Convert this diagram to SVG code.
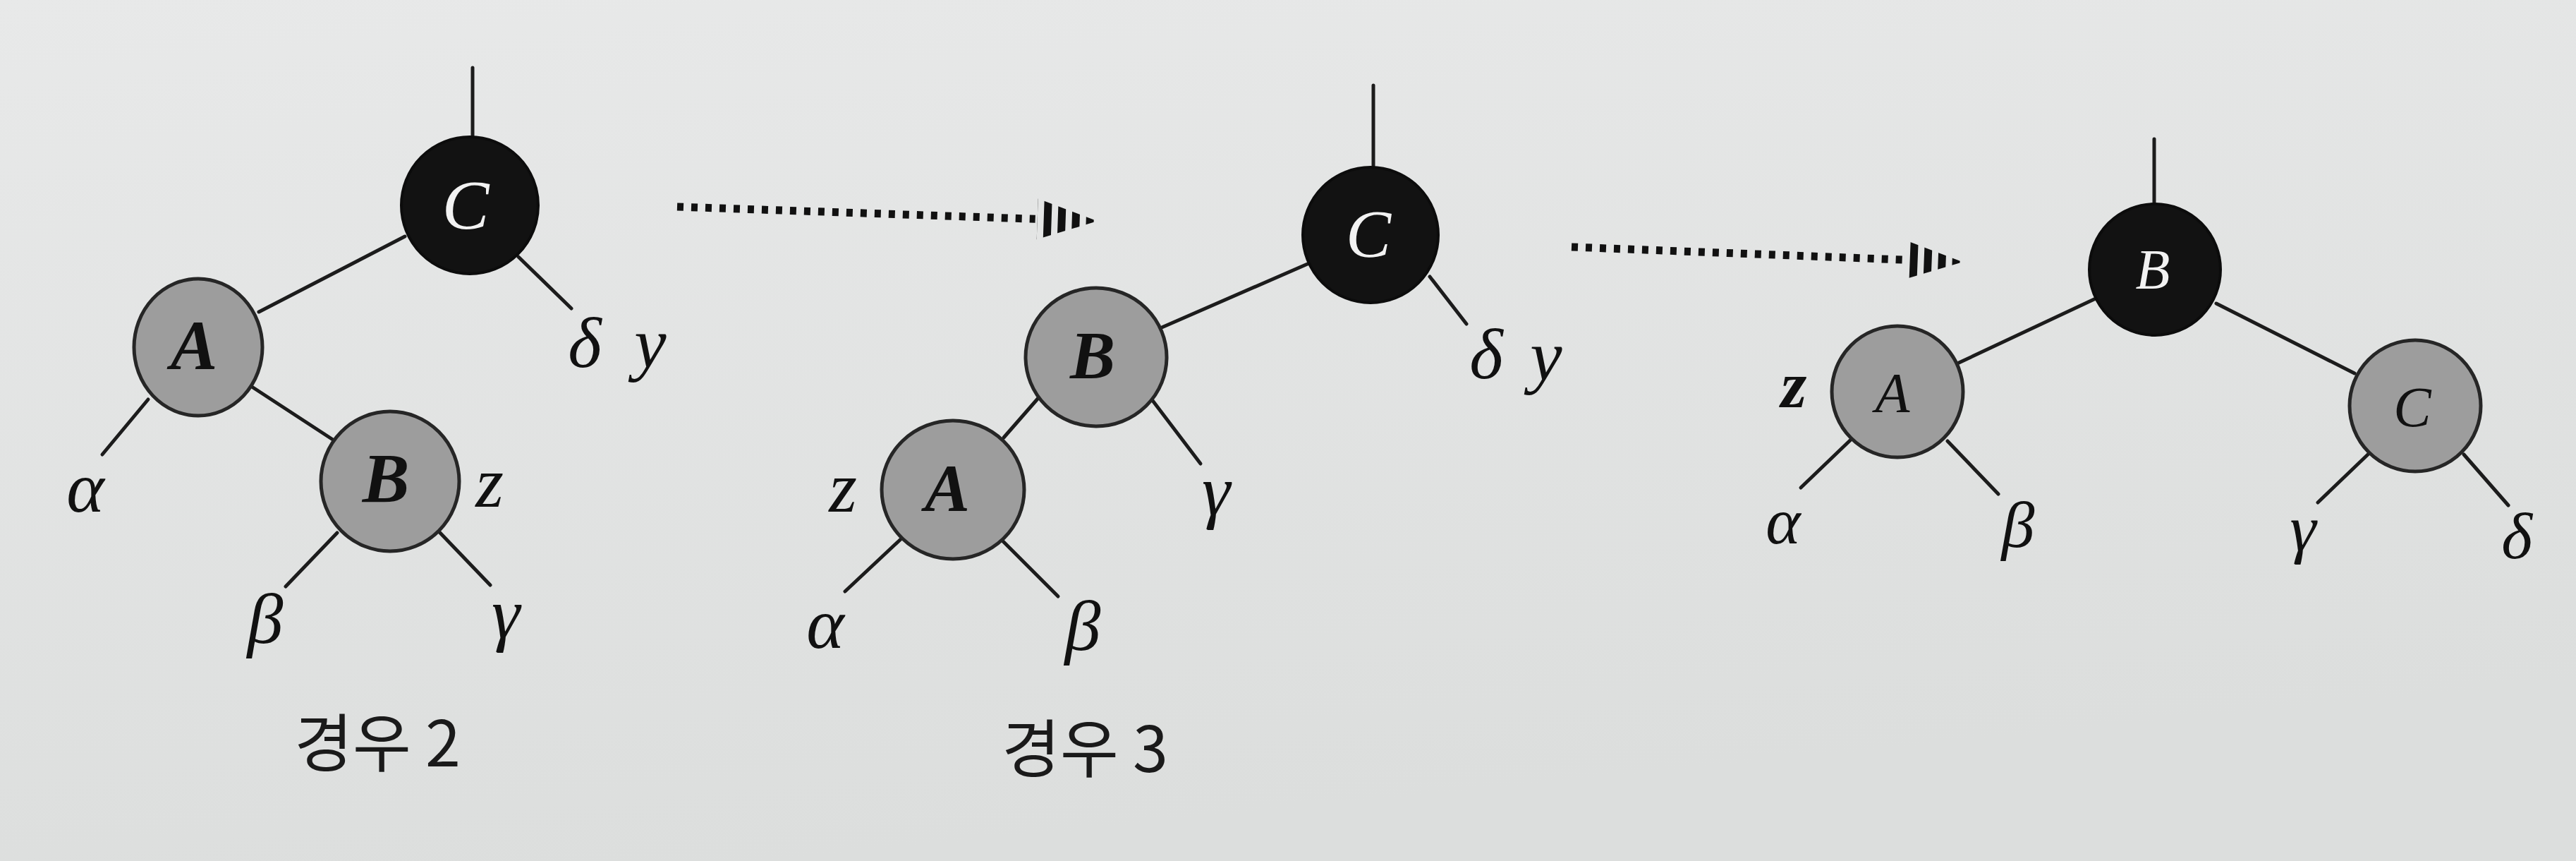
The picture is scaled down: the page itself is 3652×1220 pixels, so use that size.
<svg xmlns="http://www.w3.org/2000/svg" width="3652" height="1220" viewBox="0 0 3652 1220">
<defs>
<linearGradient id="bg" x1="0" y1="0" x2="0.3" y2="1">
<stop offset="0" stop-color="#e8e9e9"/>
<stop offset="1" stop-color="#dcdedd"/>
</linearGradient>
<pattern id="stripes" patternUnits="userSpaceOnUse" x="0" y="0" width="20" height="10">
<rect x="0" y="0" width="11" height="10" fill="#111"/>
</pattern>
<style>
.edge{stroke:#1c1c1c;stroke-width:5;fill:none;stroke-linecap:round}
.dots{stroke:#111;stroke-width:11;fill:none;stroke-dasharray:9 11}
.black{fill:#121212;stroke:#0c0c0c;stroke-width:4}
.gray{fill:#9d9d9d;stroke:#262626;stroke-width:5}
.nl{font-family:"Liberation Serif",serif;font-style:italic;text-anchor:middle}
.nb{font-weight:bold;fill:#111}
.nw{fill:#f2f2f2}
.lab{font-family:"Liberation Serif",serif;font-style:italic;font-size:102px;fill:#111;text-anchor:middle}
.lab3{font-size:94px}
.cap{font-family:"Noto Sans CJK KR","Noto Sans",sans-serif;font-size:90px;fill:#1a1a1a;text-anchor:middle}
</style>
</defs>
<rect x="0" y="0" width="3652" height="1220" fill="url(#bg)"/>

<g id="connectors">
<!-- panel 1 -->
<line class="edge" x1="670" y1="96" x2="670" y2="194"/>
<line class="edge" x1="574" y1="335" x2="367" y2="442"/>
<line class="edge" x1="735" y1="364" x2="810" y2="437"/>
<line class="edge" x1="210" y1="566" x2="145" y2="644"/>
<line class="edge" x1="354" y1="546" x2="475" y2="625"/>
<line class="edge" x1="478" y1="755" x2="405" y2="831"/>
<line class="edge" x1="622" y1="753" x2="695" y2="829"/>
<!-- panel 2 -->
<line class="edge" x1="1947" y1="121" x2="1947" y2="238"/>
<line class="edge" x1="1856" y1="373" x2="1647" y2="464"/>
<line class="edge" x1="2027" y1="392" x2="2079" y2="459"/>
<line class="edge" x1="1472" y1="564" x2="1423" y2="620"/>
<line class="edge" x1="1626" y1="557" x2="1702" y2="657"/>
<line class="edge" x1="1277" y1="764" x2="1198" y2="838"/>
<line class="edge" x1="1421" y1="766" x2="1500" y2="845"/>
<!-- panel 3 -->
<line class="edge" x1="3054" y1="197" x2="3054" y2="289"/>
<line class="edge" x1="2971" y1="423" x2="2775" y2="515"/>
<line class="edge" x1="3142" y1="430" x2="3338" y2="529"/>
<line class="edge" x1="2626" y1="621" x2="2553" y2="691"/>
<line class="edge" x1="2761" y1="625" x2="2833" y2="700"/>
<line class="edge" x1="3359" y1="642" x2="3286" y2="712"/>
<line class="edge" x1="3493" y1="644" x2="3556" y2="716"/>
<!-- dotted arrows -->
<g id="arrow1" transform="translate(960,293) rotate(1.95)">
<line class="dots" x1="0" y1="0" x2="508" y2="0"/>
<polygon points="511,-29 596,0 511,29" fill="url(#stripes)"/>
</g>
<g id="arrow2" transform="translate(2228,350) rotate(2.2)">
<line class="dots" x1="0" y1="0" x2="472" y2="0"/>
<polygon points="475,-27 555,0 475,27" fill="url(#stripes)"/>
</g>
</g>

<!-- panel 1 nodes -->
<g id="p1-C"><circle class="black" cx="666" cy="291" r="97"/><text class="nl nw" x="660" y="324" font-size="100">C</text></g>
<g id="p1-A"><ellipse class="gray" cx="281" cy="492" rx="91" ry="97"/><text class="nl nb" x="275" y="523" font-size="100">A</text></g>
<g id="p1-B"><ellipse class="gray" cx="553" cy="682" rx="98" ry="99"/><text class="nl nb" x="547" y="711" font-size="100">B</text></g>
<g id="p1-labels">
<text class="lab" x="829" y="520">δ</text>
<text class="lab" x="922" y="520">y</text>
<text class="lab" x="121" y="725">α</text>
<text class="lab" x="694" y="718">z</text>
<text class="lab" x="376" y="911">β</text>
<text class="lab" x="717" y="903">γ</text>
<text class="cap" x="535" y="1086">경우 2</text>
</g>

<!-- panel 2 nodes -->
<g id="p2-C"><circle class="black" cx="1943" cy="333" r="96"/><text class="nl nw" x="1940" y="364" font-size="96">C</text></g>
<g id="p2-B"><ellipse class="gray" cx="1554" cy="506" rx="100" ry="98"/><text class="nl nb" x="1549" y="536" font-size="96">B</text></g>
<g id="p2-A"><ellipse class="gray" cx="1351" cy="694" rx="101" ry="98"/><text class="nl nb" x="1343" y="724" font-size="96">A</text></g>
<g id="p2-labels">
<text class="lab" x="2107" y="536">δ</text>
<text class="lab" x="2192" y="538">y</text>
<text class="lab" x="1724" y="729">γ</text>
<text class="lab" x="1195" y="725">z</text>
<text class="lab" x="1170" y="918">α</text>
<text class="lab" x="1535" y="921">β</text>
<text class="cap" x="1538" y="1094">경우 3</text>
</g>

<!-- panel 3 nodes -->
<g id="p3-B"><circle class="black" cx="3055" cy="382" r="93"/><text class="nl nw" x="3052" y="409" font-size="80">B</text></g>
<g id="p3-A"><circle class="gray" cx="2690" cy="555" r="93"/><text class="nl" x="2683" y="584" font-size="80" fill="#111">A</text></g>
<g id="p3-C"><circle class="gray" cx="3424" cy="575" r="93"/><text class="nl" x="3420" y="604" font-size="80" fill="#111">C</text></g>
<g id="p3-labels">
<text class="lab lab3" x="2543" y="577" font-weight="bold">z</text>
<text class="lab lab3" x="2528" y="770">α</text>
<text class="lab lab3" x="2861" y="775">β</text>
<text class="lab lab3" x="3265" y="780">γ</text>
<text class="lab lab3" x="3568" y="791">δ</text>
</g>
</svg>
